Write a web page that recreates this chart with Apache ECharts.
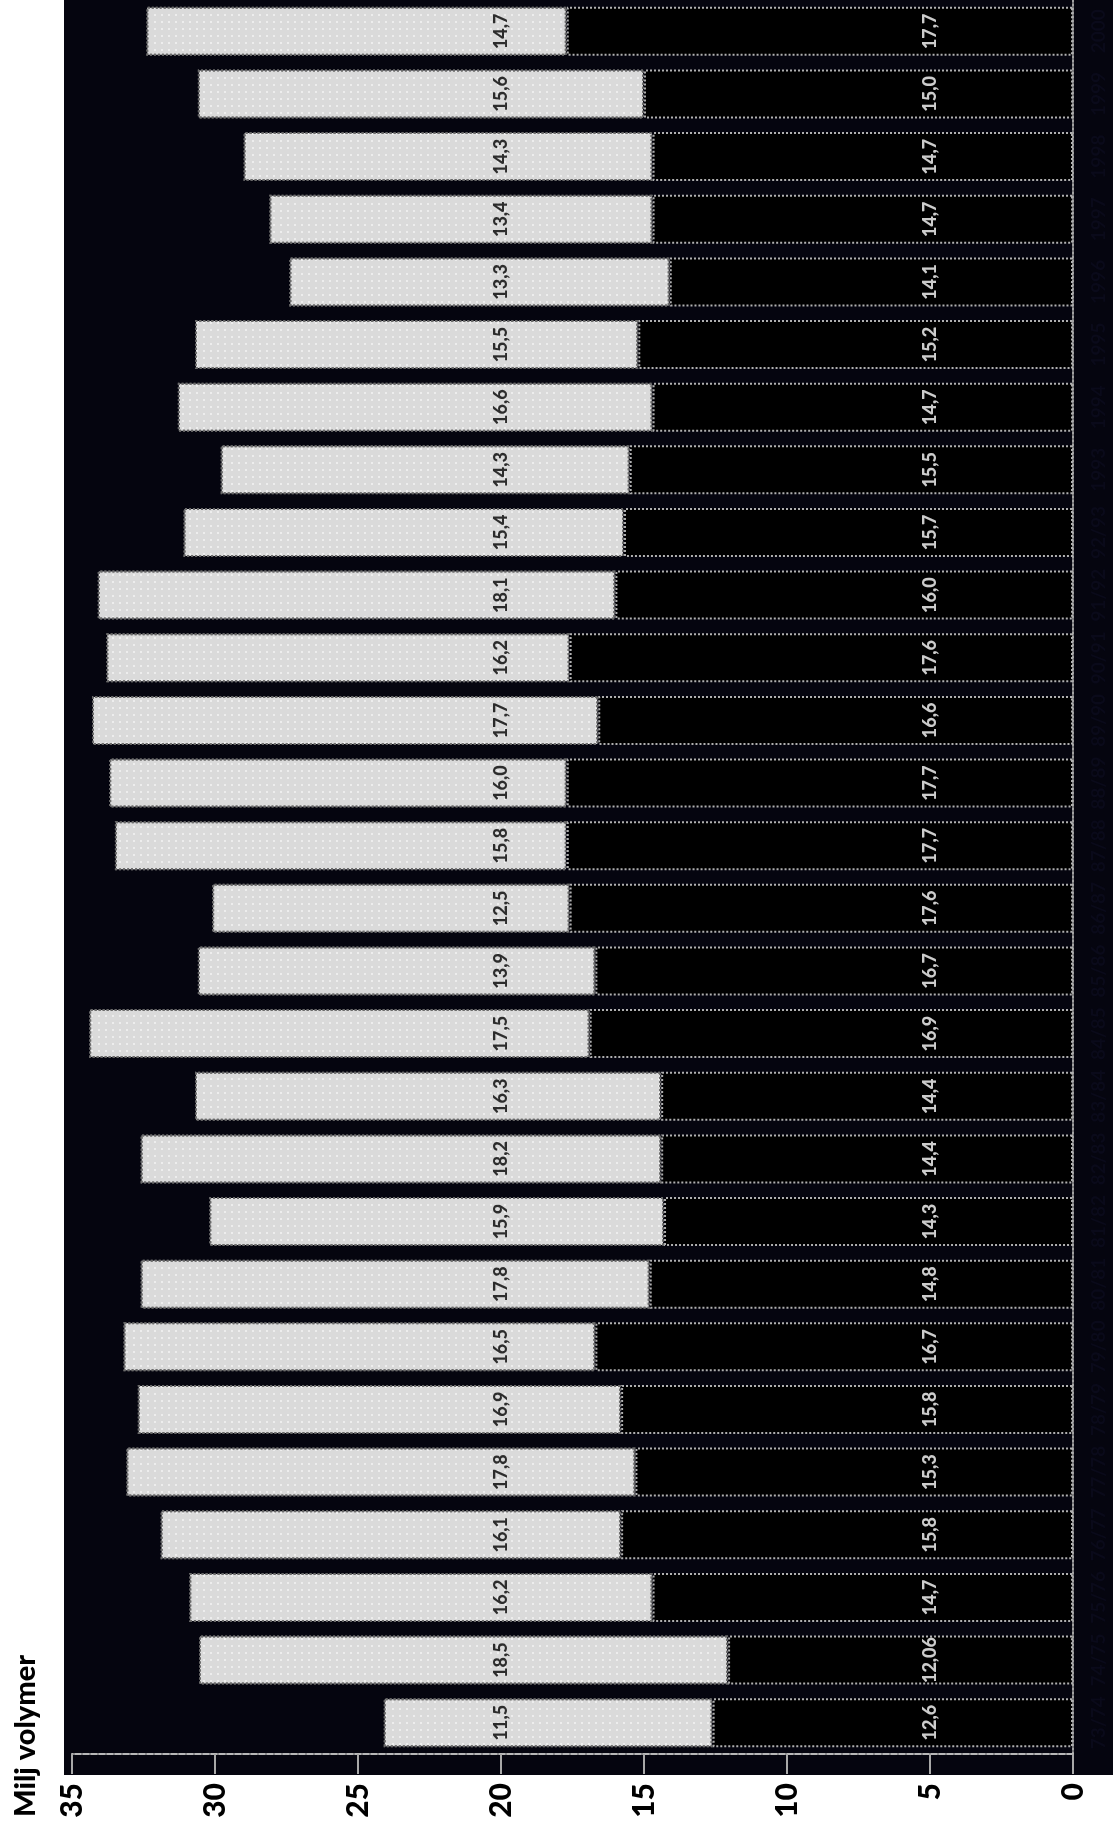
<!DOCTYPE html>
<html>
<head>
<meta charset="utf-8">
<title>Milj volymer</title>
<script src="https://cdn.jsdelivr.net/npm/echarts@6/dist/echarts.min.js"></script>
<style>
    html, body { margin: 0; padding: 0; background: #ffffff; }
    #wrap { position: relative; width: 1113px; height: 1833px; }
    #plotbg { position: absolute; left: 64px; top: 0; width: 1049px; height: 1775px; background: #05050f; }
    #chart { position: absolute; left: 0; top: 0; width: 1113px; height: 1833px; }
</style>
</head>
<body>
<div id="wrap">
    <div id="plotbg"></div>
    <div id="chart"></div>
</div>
<script>
    const categories = ['73/74', '74/75', '75/76', '76/77', '77/78', '78/79', '79/80', '80/81', '81/82', '82/83',
        '83/84', '84/85', '85/86', '86/87', '87/88', '88/89', '89/90', '90/91', '91/92', '92/93',
        '1993', '1994', '1995', '1996', '1997', '1998', '1999', '2000'];
    // black part (from 0)
    const lowerValues = [12.6, 12.06, 14.7, 15.8, 15.3, 15.8, 16.7, 14.8, 14.3, 14.4,
        14.4, 16.9, 16.7, 17.6, 17.7, 17.7, 16.6, 17.6, 16.0, 15.7,
        15.5, 14.7, 15.2, 14.1, 14.7, 14.7, 15.0, 17.7];
    // grey part stacked on top
    const upperValues = [11.5, 18.5, 16.2, 16.1, 17.8, 16.9, 16.5, 17.8, 15.9, 18.2,
        16.3, 17.5, 13.9, 12.5, 15.8, 16.0, 17.7, 16.2, 18.1, 15.4,
        14.3, 16.6, 15.5, 13.3, 13.4, 14.3, 15.6, 14.7];
    const valueTicks = [0, 5, 10, 15, 20, 25, 30, 35];
    const lowerLabelAt = 5;
    const upperLabelAt = 20;

    function fmt(v) {
        const dec = (String(v).split('.')[1] || '').length;
        return v.toFixed(Math.max(1, dec)).replace('.', ',');
    }

    const chart = echarts.init(document.getElementById('chart'));
    const labelFont = { fontFamily: 'Lato', fontWeight: 900, fontSize: 18 };

    const option = {
        animation: false,
        backgroundColor: 'transparent',
        grid: { left: 72, right: 40, top: -11, bottom: 79, containLabel: false },
        xAxis: {
            type: 'value',
            inverse: true,
            min: valueTicks[0],
            max: valueTicks[valueTicks.length - 1],
            interval: 5,
            position: 'bottom',
            axisLine: { show: true, lineStyle: { color: '#b8b8b8', width: 2, type: [6, 2] } },
            axisTick: { show: true, inside: false, length: 20, lineStyle: { color: '#a8a8a8', width: 2 } },
            splitLine: { show: false },
            axisLabel: {
                rotate: 90, margin: 29, color: '#000',
                fontFamily: 'Lato', fontWeight: 900, fontSize: 30
            }
        },
        yAxis: {
            type: 'category',
            data: categories,
            position: 'right',
            axisLine: { show: true, lineStyle: { color: '#a0a0a0', width: 2, type: 'dotted' } },
            axisTick: { show: false },
            axisLabel: {
                interval: 0, rotate: 90, margin: 16, color: '#0a0a1a',
                fontFamily: 'Lato', fontWeight: 'bold', fontSize: 19
            }
        },
        graphic: [{
            type: 'text',
            x: 26,
            y: 1817,
            rotation: Math.PI / 2,
            style: {
                text: 'Milj volymer',
                fill: '#000',
                font: '900 29px Lato',
                textAlign: 'left',
                textVerticalAlign: 'middle'
            }
        }],
        series: [
            {
                name: 'lower',
                type: 'bar',
                stack: 'total',
                barWidth: 49,
                data: lowerValues,
                itemStyle: { color: '#000000', borderColor: '#b0b0b0', borderWidth: 2, borderType: 'dotted' }
            },
            {
                name: 'upper',
                type: 'bar',
                stack: 'total',
                barWidth: 49,
                data: upperValues,
                itemStyle: {
                    color: '#dadada', borderColor: '#6a6a6a', borderWidth: 2, borderType: 'dotted',
                    decal: { symbol: 'rect', symbolSize: 1, dashArrayX: [2, 5], dashArrayY: [2, 5], color: 'rgba(255,255,255,0.5)' }
                }
            },
            {
                name: 'lowerLabels',
                type: 'scatter',
                z: 10,
                symbolSize: 1,
                itemStyle: { color: 'transparent' },
                data: lowerValues.map((v, i) => [lowerLabelAt, i, v]),
                label: Object.assign({
                    show: true, position: 'inside', rotate: 90, color: '#ffffff',
                    formatter: p => fmt(p.value[2])
                }, labelFont)
            },
            {
                name: 'upperLabels',
                type: 'scatter',
                z: 10,
                symbolSize: 1,
                itemStyle: { color: 'transparent' },
                data: upperValues.map((v, i) => [upperLabelAt, i, v]),
                label: Object.assign({
                    show: true, position: 'inside', rotate: 90, color: '#000000',
                    formatter: p => fmt(p.value[2])
                }, labelFont)
            }
        ]
    };
    chart.setOption(option);
</script>
</body>
</html>
